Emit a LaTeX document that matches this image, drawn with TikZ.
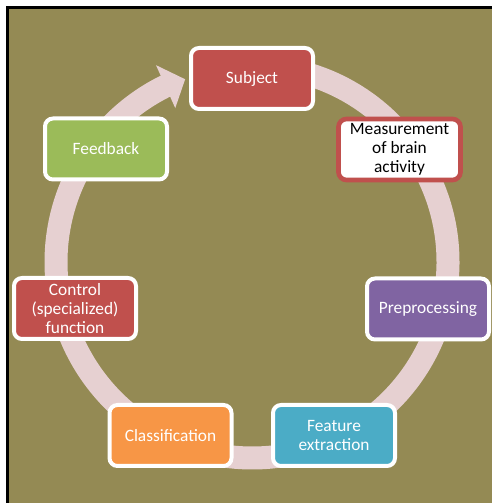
\documentclass[tikz,border=0pt]{standalone}
\usepackage{fontspec}
\setmainfont{Carlito}
\definecolor{bgolive}{HTML}{948A54}
\definecolor{ringpink}{HTML}{E6D0D1}
\definecolor{boxred}{HTML}{C0504D}
\definecolor{boxpurple}{HTML}{8064A2}
\definecolor{boxteal}{HTML}{4BACC6}
\definecolor{boxorange}{HTML}{F79646}
\definecolor{boxgreen}{HTML}{9BBB59}
\begin{document}
\begin{tikzpicture}[x=0.75pt,y=0.75pt,
  box/.style={draw=white,line width=3pt,rounded corners=6pt,minimum width=91.5pt,
    minimum height=45.75pt,inner sep=1pt,align=center,text=white,
    font=\fontsize{13}{14.3}\selectfont}]
\useasboundingbox (0,0) rectangle (492,503);
\clip (0,0) rectangle (492,503);
\fill[bgolive] (7.5,-10) rectangle (510,495.5);
\draw[line width=1.9pt] (7.5,-10) -- (7.5,495.5) -- (510,495.5);
% the cycle arrow
\coordinate (c) at (252,241);
\draw[ringpink,line width=17.25pt] ([shift={(85:196)}]c) arc[start angle=85,end angle=-244.3,radius=196];
\fill[ringpink] ([shift={(116:219)}]c) -- ([shift={(110.1:194.6)}]c) -- ([shift={(116.5:172)}]c) -- cycle;
% the steps
\node[box,fill=boxred] (subject) at (252,424.5) {Subject};
\node[box,draw=boxred,fill=white,text=black,line width=3.5pt] (measure) at (399.5,353.5) {Measurement\\of brain\\activity};
\node[box,fill=boxpurple] (prep) at (428,194) {Preprocessing};
\node[box,fill=boxteal] (feat) at (334,67.5) {Feature\\extraction};
\node[box,fill=boxorange] (classif) at (170.5,67.5) {Classification};
\node[box,fill=boxred] (control) at (75,194.5) {Control\\(specialized)\\function};
\node[box,fill=boxgreen] (feedback) at (106,354) {Feedback};
\end{tikzpicture}
\end{document}
